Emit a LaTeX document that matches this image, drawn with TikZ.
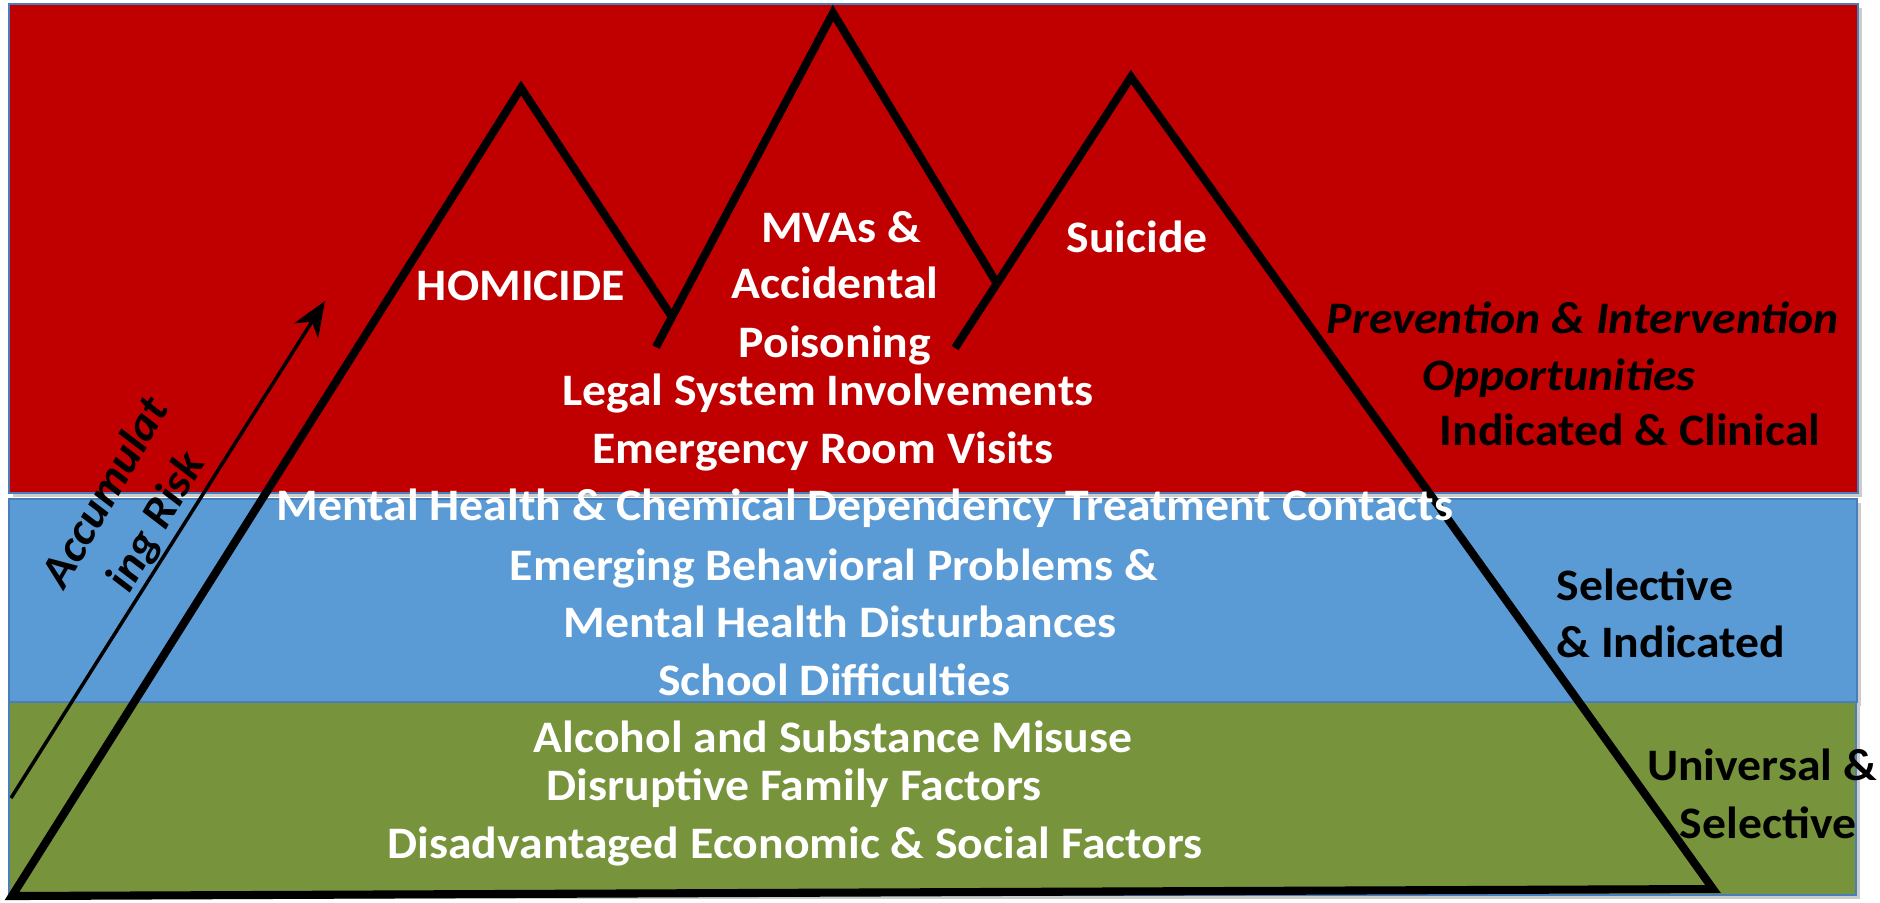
\documentclass[tikz,border=0pt]{standalone}
\usepackage{fontspec}
\setmainfont{Carlito}[FakeStretch=1.06]
\usetikzlibrary{arrows.meta,shadows}

\definecolor{bandred}{RGB}{192,0,0}
\definecolor{bandblue}{RGB}{91,155,213}
\definecolor{bandgreen}{RGB}{119,147,60}
\definecolor{bandedge}{RGB}{74,126,187}

\tikzset{
    band/.style={draw=bandedge, line width=0.6pt,
        drop shadow={shadow xshift=1pt, shadow yshift=-1pt, fill=black, opacity=0.2}},
    peakline/.style={line width=2.3pt, line join=miter, black},
    riskarrow/.style={line width=1pt, -{Stealth[length=10pt, width=8pt, inset=3pt]}},
    inlabel/.style={text=white, font=\bfseries\fontsize{12.8}{15}\selectfont, anchor=base, inner sep=0pt},
    outlabel/.style={text=black, font=\bfseries\fontsize{12.8}{15}\selectfont, anchor=base, inner sep=0pt},
}

\begin{document}
\begin{tikzpicture}[x=0.01cm, y=-0.01cm] % one unit = one pixel, y runs down
    \useasboundingbox[fill=white] (0,0) rectangle (1880,902);

    % the three bands
    \fill[bandred, band]   (9,4)     rectangle (1858,493);
    \fill[bandblue, band]  (9,499)   rectangle (1857,702);
    \fill[bandgreen, band] (9,702)   rectangle (1856,895);

    % corners of the mountain outline
    \coordinate (base left)  at (12,896);
    \coordinate (base right) at (1713,889);
    \coordinate (homicide peak) at (521,88);
    \coordinate (homicide foot) at (672,317);
    \coordinate (mva start)  at (656,347);
    \coordinate (mva peak)   at (833,13);
    \coordinate (mva foot)   at (996,282);
    \coordinate (suicide start) at (955,348);
    \coordinate (suicide peak)  at (1131,77);

    \draw[peakline] (homicide foot) -- (homicide peak) -- (base left)
        -- (base right) -- (suicide peak) -- (suicide start);
    \draw[peakline] (mva start) -- (mva peak) -- (mva foot);

    % accumulating risk arrow
    \coordinate (risk foot) at (11,798);
    \coordinate (risk tip)  at (325,301);
    \draw[riskarrow] (risk foot) -- (risk tip);
    \node[text=black, font=\bfseries\itshape\fontsize{12.8}{16.5}\selectfont,
          align=center, rotate=60] (risklabel) at (132,508) {Accumulat\\ing Risk};

    % peaks
    \node[inlabel] (homicide)   at (521,300) {HOMICIDE};
    \node[inlabel] (mvas)       at (841,242) {MVAs \&};
    \node[inlabel] (accidental) at (835,298) {Accidental};
    \node[inlabel] (poisoning)  at (835,357) {Poisoning};
    \node[inlabel] (suicide)    at (1137,252) {Suicide};

    % risk layers
    \node[inlabel] (legal)     at (828,405) {Legal System Involvements};
    \node[inlabel] (er)        at (823,463) {Emergency Room Visits};
    \node[inlabel] (mhcd)      at (865,520) {Mental Health \& Chemical Dependency Treatment Contacts};
    \node[inlabel] (emerging)  at (834,580) {Emerging Behavioral Problems \&};
    \node[inlabel] (mhdist)    at (840,637) {Mental Health Disturbances};
    \node[inlabel] (school)    at (834,695) {School Difficulties};
    \node[inlabel] (alcohol)   at (833,752) {Alcohol and Substance Misuse};
    \node[inlabel] (family)    at (794,800) {Disruptive Family Factors};
    \node[inlabel] (economic)  at (795,858) {Disadvantaged Economic \& Social Factors};

    % prevention levels
    \node[outlabel, font=\bfseries\itshape\fontsize{12.8}{15}\selectfont] (prevention) at (1583,333) {Prevention \& Intervention};
    \node[outlabel, font=\bfseries\itshape\fontsize{12.8}{15}\selectfont] (opportunities) at (1559,390) {Opportunities};
    \node[outlabel] (clinical)   at (1630,445) {Indicated \& Clinical};
    \node[outlabel, anchor=base west] (selective)  at (1556,600) {Selective};
    \node[outlabel, anchor=base west] (indicated)  at (1556,657) {\& Indicated};
    \node[outlabel] (universal)  at (1762,780) {Universal \&};
    \node[outlabel] (selective2) at (1768,838) {Selective};
\end{tikzpicture}
\end{document}
